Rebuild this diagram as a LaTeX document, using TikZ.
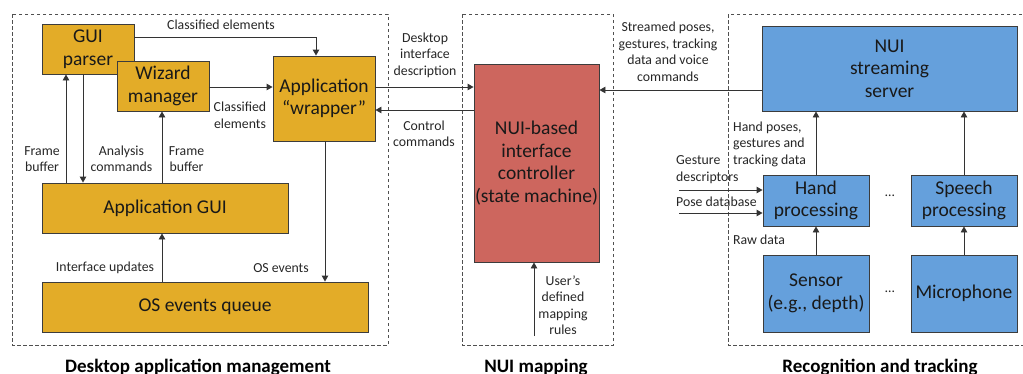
\documentclass[tikz,border=0pt]{standalone}
\usepackage{fontspec}
\setmainfont{Carlito}
\usetikzlibrary{arrows.meta,calc}

\definecolor{goldfill}{RGB}{227,172,40}
\definecolor{redfill}{RGB}{205,102,94}
\definecolor{bluefill}{RGB}{101,160,220}
\definecolor{edgegray}{RGB}{60,60,60}
\definecolor{framegray}{RGB}{80,80,80}

\tikzset{
  blk/.style={draw=edgegray, line width=0.9pt, align=center, inner sep=0pt,
              font=\fontsize{19.5}{22.5}\selectfont, text=black!90},
  gold/.style={blk, fill=goldfill},
  redb/.style={blk, fill=redfill},
  blue/.style={blk, fill=bluefill},
  lbl/.style={align=center, inner sep=0pt, font=\fontsize{13.8}{16.5}\selectfont, text=black!85},
  lbll/.style={lbl, align=left, anchor=west},
  arr/.style={draw=black!80, line width=0.9pt, -{Triangle[length=6pt,width=6.5pt]}},
  frame/.style={draw=framegray, line width=0.7pt, dash pattern=on 3.5pt off 2.5pt},
  title/.style={font=\fontsize{19}{22}\bfseries\selectfont, anchor=base, inner sep=0pt}
}

\begin{document}
\begin{tikzpicture}[x=1pt,y=-1pt]
  \useasboundingbox (0,0) rectangle (1023,373);

  % dashed group frames
  \draw[frame] (12,14) rectangle (388,345);
  \draw[frame] (462,14) rectangle (613,345);
  \draw[frame] (728,14) rectangle (1030,345);

  % group titles
  \node[title] (t1) at (198,372) {Desktop application management};
  \node[title] (t2) at (536,372) {NUI mapping};
  \node[title] (t3) at (880,372) {Recognition and tracking};

  % desktop application side
  \node[gold, minimum width=92pt, minimum height=50pt] (parser) at (88,49) {GUI\\parser};
  \node[gold, minimum width=92pt, minimum height=50pt] (wizard) at (163,86) {Wizard\\manager};
  \node[gold, minimum width=102pt, minimum height=85pt] (wrapper) at (324,98.5) {Application\\``wrapper''};
  \node[gold, minimum width=246pt, minimum height=50pt] (appgui) at (165,208) {Application GUI};
  \node[gold, minimum width=326pt, minimum height=50pt] (osq) at (205,307) {OS events queue};

  % mapping
  \node[redb, minimum width=125pt, minimum height=198pt] (ctrl) at (536.5,163) {NUI-based\\interface\\controller\\(state machine)};

  % recognition side
  \node[blue, minimum width=255pt, minimum height=85pt] (server) at (889.5,68.5) {NUI\\streaming\\server};
  \node[blue, minimum width=106pt, minimum height=51pt] (hand) at (816,200.5) {Hand\\processing};
  \node[blue, minimum width=106pt, minimum height=51pt] (speech) at (964,200.5) {Speech\\processing};
  \node[blue, minimum width=106pt, minimum height=77pt] (sensor) at (816,293.5) {Sensor\\(e.g., depth)};
  \node[blue, minimum width=106pt, minimum height=77pt] (mic) at (964,293.5) {Microphone};

  \node[lbl] (dots1) at (890,196) {\dots};
  \node[lbl] (dots2) at (890,292) {\dots};

  % vertical guide positions for connectors
  \coordinate (xfb1) at (66,0);
  \coordinate (xan) at (83,0);
  \coordinate (xfb2) at (162,0);
  \coordinate (xcl) at (316,0);
  \coordinate (xos) at (325,0);
  \coordinate (yparse) at (0,37);
  \coordinate (ywiz) at (0,87);
  \coordinate (ydesc) at (0,87);
  \coordinate (yctl) at (0,110);
  \coordinate (ystream) at (0,90);
  \coordinate (xuser) at (534,0);
  \coordinate (userfoot) at (534,336);
  \coordinate (gestsrc) at (679,190);
  \coordinate (posesrc) at (679,213);

  % connectors, desktop side
  \draw[arr] (parser.east |- yparse) -| (wrapper.north -| xcl);
  \draw[arr] (wizard.east |- ywiz) -- (wrapper.west |- ywiz);
  \draw[arr] (appgui.north -| xfb1) -- (parser.south -| xfb1);
  \draw[arr] (parser.south -| xan) -- (appgui.north -| xan);
  \draw[arr] (appgui.north -| xfb2) -- (wizard.south -| xfb2);
  \draw[arr] (wrapper.south -| xos) -- (osq.north -| xos);
  \draw[arr] (osq.north -| xfb2) -- (appgui.south -| xfb2);

  % connectors between groups
  \draw[arr] (wrapper.east |- ydesc) -- (ctrl.west |- ydesc);
  \draw[arr] (ctrl.west |- yctl) -- (wrapper.east |- yctl);
  \draw[arr] (server.west |- ystream) -- (ctrl.east |- ystream);
  \draw[arr] (userfoot) -- (ctrl.south -| xuser);

  % connectors, recognition side
  \draw[arr] (hand) -- (server.south -| hand);
  \draw[arr] (speech) -- (server.south -| speech);
  \draw[arr] (sensor) -- (hand);
  \draw[arr] (mic) -- (speech);
  \draw[arr] (gestsrc) -- (hand.west |- gestsrc);
  \draw[arr] (posesrc) -- (hand.west |- posesrc);

  % connector labels
  \node[lbl] (l1) at (221,25) {Classified elements};
  \node[lbl] (l2) at (240,115.5) {Classified\\elements};
  \node[lbl] (l3) at (42,159) {Frame\\buffer};
  \node[lbl] (l4) at (121.5,159) {Analysis\\commands};
  \node[lbl] (l5) at (186.5,159) {Frame\\buffer};
  \node[lbl] (l6) at (105,268) {Interface updates};
  \node[lbl] (l7) at (281,268) {OS events};
  \node[lbl] (l8) at (425,55) {Desktop\\interface\\description};
  \node[lbl] (l9) at (424,134) {Control\\commands};
  \node[lbl] (l10) at (563,305) {User’s\\defined\\mapping\\rules};
  \node[lbl] (l11) at (668,52) {Streamed poses,\\gestures, tracking\\data and voice\\commands};
  \node[lbll] (l12) at (733,144) {Hand poses,\\gestures and\\tracking data};
  \node[lbll] (l13) at (676,169.5) {Gesture\\descriptors};
  \node[lbll] (l14) at (676,202) {Pose database};
  \node[lbll] (l15) at (733,240) {Raw data};
\end{tikzpicture}
\end{document}
